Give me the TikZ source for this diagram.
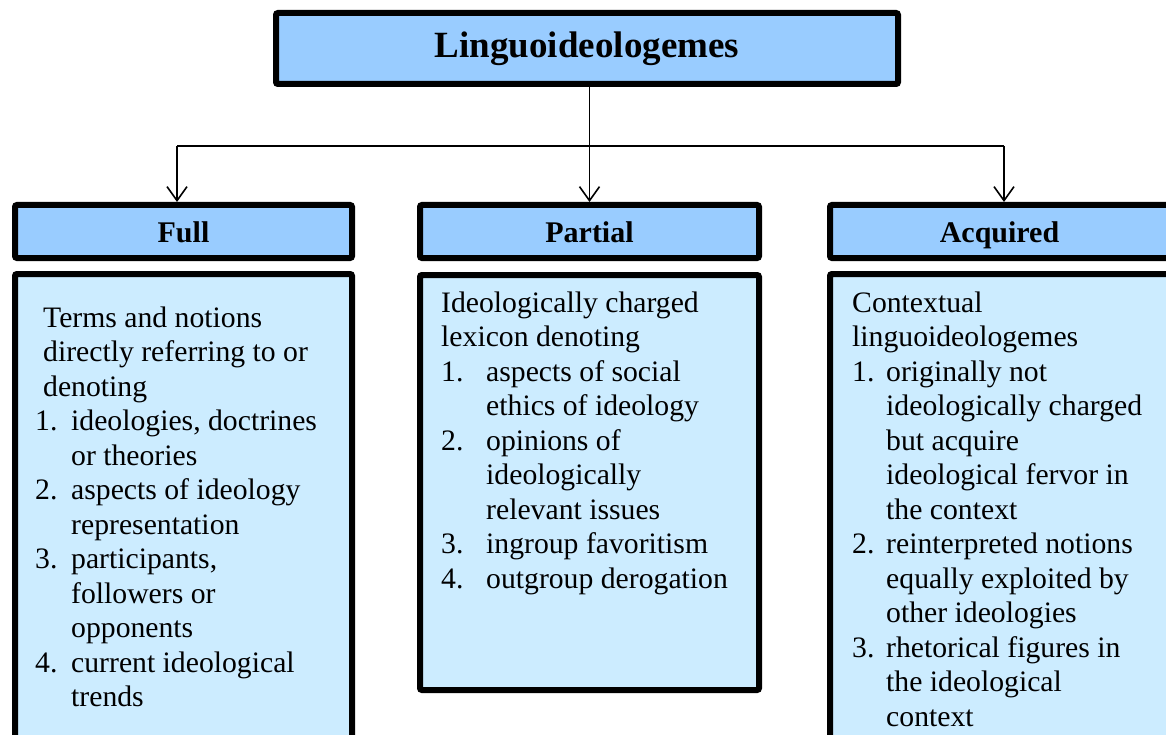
\documentclass[tikz,border=0pt]{standalone}
\usepackage{fontspec}
\setmainfont{Liberation Serif}
\usetikzlibrary{arrows.meta}
\definecolor{headblue}{RGB}{153,204,255}
\definecolor{bodyblue}{RGB}{204,236,255}
% label of a numbered item, in a box of fixed width
\newcommand{\nlab}[2][36pt]{\makebox[#1][l]{#2}}
\begin{document}
\begin{tikzpicture}[x=1pt,y=-1pt,
  frame/.style={draw=black, line width=6pt, rounded corners=2pt, inner sep=0pt},
  headbox/.style={frame, fill=headblue, text height=25pt, text depth=3pt,
                  font=\fontsize{30}{34}\selectfont\bfseries},
  bodybox/.style={frame, fill=bodyblue},
  bodytext/.style={anchor=base west, inner sep=0pt, font=\fontsize{29.7}{34.5}\selectfont},
  wire/.style={line width=1.6pt},
  link/.style={wire, -{Straight Barb[length=14pt,width=20pt,line width=1.6pt]}}
]
\useasboundingbox (0,0) rectangle (1166,735);
\clip (0,0) rectangle (1166,735);

% title
\node[headbox, font=\fontsize{37}{41}\selectfont\bfseries, text height=25pt, text depth=6pt,
      minimum width=622pt, minimum height=71pt] (title) at (587,48.5) {Linguoideologemes};

% category headers
\node[headbox, minimum width=337pt, minimum height=53pt] (full)    at (183.5,231.5) {Full};
\node[headbox, minimum width=339pt, minimum height=53pt] (partial) at (589.5,231.5) {Partial};
\node[headbox, minimum width=339pt, minimum height=53pt] (acq)     at (999.5,231.5) {Acquired};

% body boxes
\node[bodybox, minimum width=337pt, minimum height=500pt] (fullbody) at (183.5,524) {};
\node[bodybox, minimum width=339pt, minimum height=415pt] (partbody) at (589.5,482.5) {};
\node[bodybox, minimum width=339pt, minimum height=500pt] (acqbody)  at (999.5,524) {};

% connectors
\coordinate (hl) at (177,146);
\coordinate (hr) at (1004,146);
\draw[wire] (hl) -- (hr);
\draw[link] (title.south -| partial.north) -- (partial.north);
\draw[link] (hl) -- (hl |- full.north);
\draw[link] (hr) -- (hr |- acq.north);

% body texts
\node[bodytext] (fulltxt) at (35,327) {\begin{tabular}[t]{@{}l@{}}
\hspace{8pt}Terms and notions\\
\hspace{8pt}directly referring to or\\
\hspace{8pt}denoting\\
\nlab{1.}ideologies, doctrines\\
\nlab{}or theories\\
\nlab{2.}aspects of ideology\\
\nlab{}representation\\
\nlab{3.}participants,\\
\nlab{}followers or\\
\nlab{}opponents\\
\nlab{4.}current ideological\\
\nlab{}trends
\end{tabular}};

\node[bodytext] (parttxt) at (441,312) {\begin{tabular}[t]{@{}l@{}}
Ideologically charged\\
lexicon denoting\\
\nlab[45pt]{1.}aspects of social\\
\nlab[45pt]{}ethics of ideology\\
\nlab[45pt]{2.}opinions of\\
\nlab[45pt]{}ideologically\\
\nlab[45pt]{}relevant issues\\
\nlab[45pt]{3.}ingroup favoritism\\
\nlab[45pt]{4.}outgroup derogation
\end{tabular}};

\node[bodytext] (acqtxt) at (852,312) {\begin{tabular}[t]{@{}l@{}}
Contextual\\
linguoideologemes\\
\nlab[34pt]{1.}originally not\\
\nlab[34pt]{}ideologically charged\\
\nlab[34pt]{}but acquire\\
\nlab[34pt]{}ideological fervor in\\
\nlab[34pt]{}the context\\
\nlab[34pt]{2.}reinterpreted notions\\
\nlab[34pt]{}equally exploited by\\
\nlab[34pt]{}other ideologies\\
\nlab[34pt]{3.}rhetorical figures in\\
\nlab[34pt]{}the ideological\\
\nlab[34pt]{}context
\end{tabular}};
\end{tikzpicture}
\end{document}
